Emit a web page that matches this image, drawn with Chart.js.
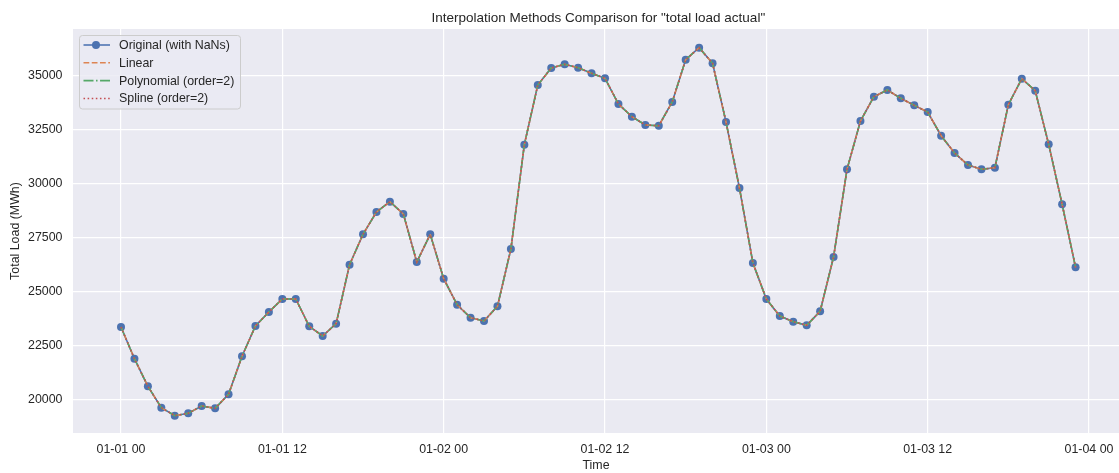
<!DOCTYPE html>
<html>
<head>
<meta charset="utf-8">
<script src="https://cdn.jsdelivr.net/npm/chart.js@4/dist/chart.umd.min.js"></script>
<style>
  html, body { margin: 0; padding: 0; background: #ffffff; }
  #wrap { width: 1119px; height: 473px; }
</style>
</head>
<body>
<div id="wrap"><canvas id="c" width="1119" height="473"></canvas></div>
<script>
// ---- data (hours since 01-01 00) ----
const hours = [0,1,2,3,4,5,6,7,8,9,10,11,12,13,14,15,16,17,18,19,20,21,22,23,
  24,25,26,27,28,29,30,31,32,33,34,35,36,37,38,39,40,41,42,43,44,45,46,47,
  48,49,50,51,52,53,54,55,56,57,58,59,60,61,62,63,64,65,66,67,68,69,70,71];

const originalLoad = [23355,21884,20603,19610,19240,19350,19690,19580,20230,21995,23400,24050,
  24655,24655,23387,22937,23508,26245,27656,28691,29169,28598,26371,27656,
  25596,24389,23786,23633,24315,26974,31814,34584,35373,35544,35387,35126,
  34894,33702,33113,32728,32695,33795,35758,36314,35590,32867,29804,26324,
  24654,23865,23601,23434,24083,26603,30672,32913,34041,34352,33966,33641,
  33331,32231,31428,30871,30672,30746,33670,34876,34319,31832,29048,26125];
const linearLoad = originalLoad.slice();
const polynomialLoad = originalLoad.slice();
const splineLoad = originalLoad.slice();

const xTickValues = [0,12,24,36,48,60,72];
const xTickLabels = ['01-01 00','01-01 12','01-02 00','01-02 12','01-03 00','01-03 12','01-04 00'];
const yTickValues = [20000,22500,25000,27500,30000,32500,35000];

const seriesNames = ['Original (with NaNs)','Linear','Polynomial (order=2)','Spline (order=2)'];
const chartTitle = 'Interpolation Methods Comparison for "total load actual"';

// ---- helpers ----
const pts = arr => arr.map((v, i) => ({ x: hours[i], y: v }));
const FONT = '"Liberation Sans", Arial, sans-serif';
const TXT = '#262626';
const FS = 12.4;

const bgPlugin = {
  id: 'bg',
  beforeDraw(chart) {
    const { ctx, chartArea: a } = chart;
    ctx.save();
    ctx.fillStyle = '#EAEAF2';
    ctx.fillRect(a.left, a.top, a.right - a.left, a.bottom - a.top);
    ctx.restore();
  }
};

// title centred over the full (partly cropped) axes, as in the source figure
const titlePlugin = {
  id: 'axTitle',
  afterDraw(chart) {
    const ctx = chart.ctx;
    const xs = chart.scales.x;
    const left = xs.getPixelForValue(-3.57);
    const right = xs.getPixelForValue(74.57);
    ctx.save();
    ctx.font = '13.5px ' + FONT;
    ctx.fillStyle = TXT;
    ctx.textAlign = 'center';
    ctx.textBaseline = 'alphabetic';
    ctx.fillText(chartTitle, (left + right) / 2, 21.8);
    ctx.restore();
  }
};

const legendPlugin = {
  id: 'innerLegend',
  afterDraw(chart) {
    const ctx = chart.ctx;
    const a = chart.chartArea;
    const x0 = a.left + 6.5, y0 = a.top + 6.5, w = 161, h = 73.5;
    ctx.save();
    ctx.beginPath();
    if (ctx.roundRect) ctx.roundRect(x0, y0, w, h, 3); else ctx.rect(x0, y0, w, h);
    ctx.fillStyle = 'rgba(234,234,242,0.8)';
    ctx.fill();
    ctx.strokeStyle = '#cccccc';
    ctx.lineWidth = 1;
    ctx.stroke();
    ctx.font = FS + 'px ' + FONT;
    ctx.textBaseline = 'middle';
    [0,1,2,3].forEach((k, i) => {
      const ds = chart.data.datasets[k];
      const yy = y0 + 9.5 + i * 17.8;
      ctx.beginPath();
      ctx.setLineDash(ds.borderDash || []);
      ctx.strokeStyle = ds.borderColor;
      ctx.lineWidth = ds.borderWidth;
      ctx.moveTo(x0 + 4, yy);
      ctx.lineTo(x0 + 30.5, yy);
      ctx.stroke();
      ctx.setLineDash([]);
      if (ds.pointRadius > 0) {
        ctx.beginPath();
        ctx.fillStyle = ds.pointBackgroundColor;
        ctx.arc(x0 + 16.5, yy, ds.pointRadius, 0, Math.PI * 2);
        ctx.fill();
      }
      ctx.fillStyle = TXT;
      ctx.fillText(seriesNames[k], x0 + 39.5, yy + 0.5);
    });
    ctx.restore();
  }
};

const LW = 1.55;
new Chart(document.getElementById('c'), {
  type: 'line',
  data: {
    datasets: [
      { label: seriesNames[0], data: pts(originalLoad), borderColor: '#4C72B0', backgroundColor: '#4C72B0',
        borderWidth: LW, pointRadius: 4, pointBackgroundColor: '#4C72B0', pointBorderWidth: 0,
        pointBorderColor: '#4C72B0', order: 4, tension: 0 },
      { label: seriesNames[1], data: pts(linearLoad), borderColor: '#DD8452', borderWidth: LW,
        borderDash: [5.75, 2.5], pointRadius: 0, order: 3, tension: 0 },
      { label: seriesNames[2], data: pts(polynomialLoad), borderColor: '#55A868', borderWidth: LW,
        borderDash: [10, 2.5, 1.55, 2.5], pointRadius: 0, order: 2, tension: 0 },
      { label: seriesNames[3], data: pts(splineLoad), borderColor: '#C44E52', borderWidth: LW,
        borderDash: [1.55, 2.56], pointRadius: 0, order: 1, tension: 0 }
    ]
  },
  options: {
    responsive: false,
    animation: false,
    devicePixelRatio: 1,
    layout: { autoPadding: false, padding: { left: 0, right: 0, top: 29, bottom: 0 } },
    plugins: {
      legend: { display: false },
      tooltip: { enabled: false },
      title: { display: false }
    },
    scales: {
      x: {
        type: 'linear',
        min: -3.57,
        max: 74.23,
        afterBuildTicks: s => { s.ticks = xTickValues.map(v => ({ value: v })); },
        afterFit: s => { s.height = 40; s.paddingLeft = 0; s.paddingRight = 0; },
        ticks: {
          autoSkip: false, maxRotation: 0, padding: 9.5, color: TXT,
          font: { family: FONT, size: FS },
          callback: v => xTickLabels[xTickValues.indexOf(v)]
        },
        grid: { color: '#ffffff', lineWidth: 1.2, drawTicks: false },
        border: { display: false },
        title: { display: true, text: 'Time', color: TXT, font: { family: FONT, size: FS }, padding: { top: 0, bottom: 0 } }
      },
      y: {
        min: 18436,
        max: 37182,
        afterBuildTicks: s => { s.ticks = yTickValues.map(v => ({ value: v })); },
        afterFit: s => { s.width = 73; s.paddingTop = 0; s.paddingBottom = 0; },
        ticks: {
          padding: 10.5, color: TXT,
          font: { family: FONT, size: FS },
          callback: v => String(v)
        },
        grid: { color: '#ffffff', lineWidth: 1.2, drawTicks: false },
        border: { display: false },
        title: { display: true, text: 'Total Load (MWh)', color: TXT, font: { family: FONT, size: FS }, padding: { top: 8.5, bottom: 0 } }
      }
    }
  },
  plugins: [bgPlugin, titlePlugin, legendPlugin]
});
</script>
</body>
</html>
